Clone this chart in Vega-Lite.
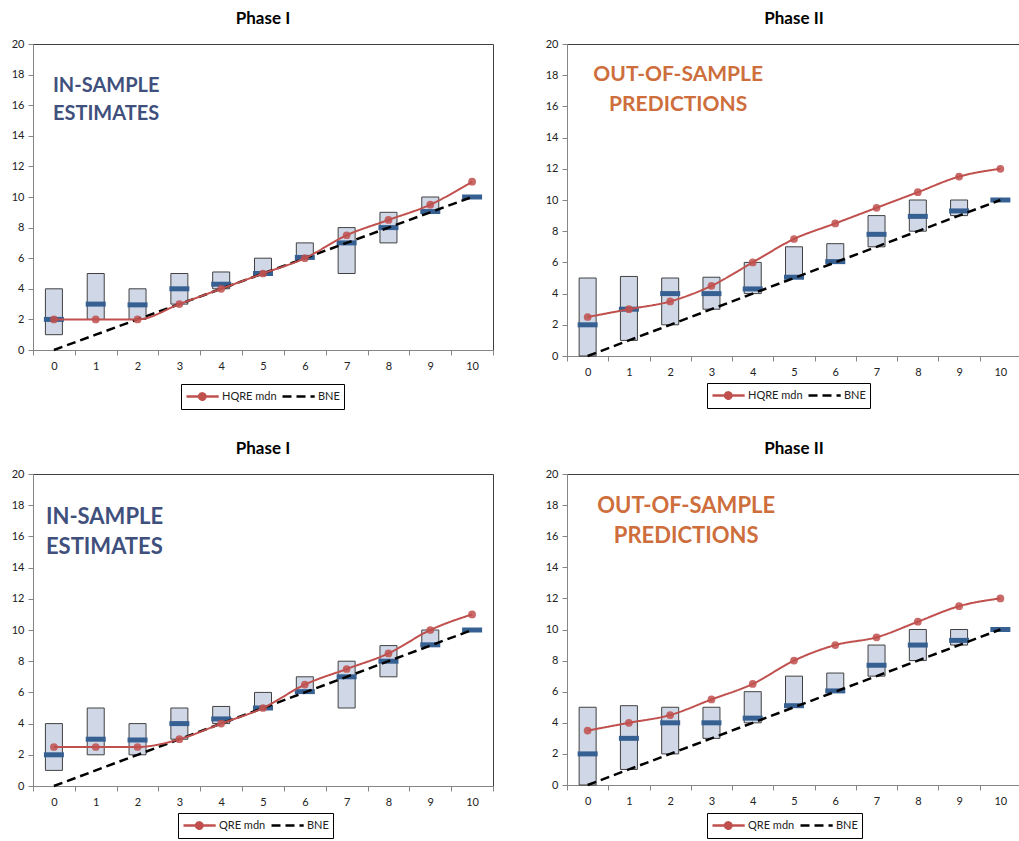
{
  "$schema": "https://vega.github.io/schema/vega-lite/v6.json",
  "padding": {"left": 10, "top": 9, "right": 0, "bottom": 0},
  "background": "white",
  "datasets": {
    "b1": [
      {"k": 0, "lo": 1, "hi": 4, "med": 2},
      {"k": 1, "lo": 2, "hi": 5, "med": 3},
      {"k": 2, "lo": 2, "hi": 4, "med": 2.95},
      {"k": 3, "lo": 3, "hi": 5, "med": 4},
      {"k": 4, "lo": 4, "hi": 5.1, "med": 4.3},
      {"k": 5, "lo": 5, "hi": 6, "med": 5},
      {"k": 6, "lo": 6, "hi": 7, "med": 6.05},
      {"k": 7, "lo": 5, "hi": 8, "med": 7},
      {"k": 8, "lo": 7, "hi": 9, "med": 8},
      {"k": 9, "lo": 9, "hi": 10, "med": 9.05},
      {"k": 10, "lo": 10, "hi": 10, "med": 10}
    ],
    "b2": [
      {"k": 0, "lo": 0, "hi": 5, "med": 2},
      {"k": 1, "lo": 1, "hi": 5.1, "med": 3},
      {"k": 2, "lo": 2, "hi": 5, "med": 4},
      {"k": 3, "lo": 3, "hi": 5.05, "med": 4},
      {"k": 4, "lo": 4, "hi": 6, "med": 4.3},
      {"k": 5, "lo": 5, "hi": 7, "med": 5.05},
      {"k": 6, "lo": 6, "hi": 7.2, "med": 6.05},
      {"k": 7, "lo": 7, "hi": 9, "med": 7.8},
      {"k": 8, "lo": 8, "hi": 10, "med": 8.95},
      {"k": 9, "lo": 9, "hi": 10, "med": 9.3},
      {"k": 10, "lo": 10, "hi": 10, "med": 10}
    ],
    "b4": [
      {"k": 0, "lo": 0, "hi": 5, "med": 2},
      {"k": 1, "lo": 1, "hi": 5.1, "med": 3},
      {"k": 2, "lo": 2, "hi": 5, "med": 4},
      {"k": 3, "lo": 3, "hi": 5, "med": 4},
      {"k": 4, "lo": 4, "hi": 6, "med": 4.3},
      {"k": 5, "lo": 5, "hi": 7, "med": 5.1},
      {"k": 6, "lo": 6, "hi": 7.2, "med": 6.05},
      {"k": 7, "lo": 7, "hi": 9, "med": 7.7},
      {"k": 8, "lo": 8, "hi": 10, "med": 9},
      {"k": 9, "lo": 9, "hi": 10, "med": 9.3},
      {"k": 10, "lo": 10, "hi": 10, "med": 10}
    ],
    "bne": [
      {"k": 0, "s": "BNE", "v": 0},
      {"k": 1, "s": "BNE", "v": 1},
      {"k": 2, "s": "BNE", "v": 2},
      {"k": 3, "s": "BNE", "v": 3},
      {"k": 4, "s": "BNE", "v": 4},
      {"k": 5, "s": "BNE", "v": 5},
      {"k": 6, "s": "BNE", "v": 6},
      {"k": 7, "s": "BNE", "v": 7},
      {"k": 8, "s": "BNE", "v": 8},
      {"k": 9, "s": "BNE", "v": 9},
      {"k": 10, "s": "BNE", "v": 10}
    ],
    "m1": [
      {"k": 0, "s": "HQRE mdn", "v": 2},
      {"k": 1, "s": "HQRE mdn", "v": 2},
      {"k": 2, "s": "HQRE mdn", "v": 2},
      {"k": 3, "s": "HQRE mdn", "v": 3},
      {"k": 4, "s": "HQRE mdn", "v": 4},
      {"k": 5, "s": "HQRE mdn", "v": 5},
      {"k": 6, "s": "HQRE mdn", "v": 6},
      {"k": 7, "s": "HQRE mdn", "v": 7.5},
      {"k": 8, "s": "HQRE mdn", "v": 8.5},
      {"k": 9, "s": "HQRE mdn", "v": 9.5},
      {"k": 10, "s": "HQRE mdn", "v": 11}
    ],
    "m2": [
      {"k": 0, "s": "HQRE mdn", "v": 2.5},
      {"k": 1, "s": "HQRE mdn", "v": 3},
      {"k": 2, "s": "HQRE mdn", "v": 3.5},
      {"k": 3, "s": "HQRE mdn", "v": 4.5},
      {"k": 4, "s": "HQRE mdn", "v": 6},
      {"k": 5, "s": "HQRE mdn", "v": 7.5},
      {"k": 6, "s": "HQRE mdn", "v": 8.5},
      {"k": 7, "s": "HQRE mdn", "v": 9.5},
      {"k": 8, "s": "HQRE mdn", "v": 10.5},
      {"k": 9, "s": "HQRE mdn", "v": 11.5},
      {"k": 10, "s": "HQRE mdn", "v": 12}
    ],
    "m3": [
      {"k": 0, "s": "QRE mdn", "v": 2.5},
      {"k": 1, "s": "QRE mdn", "v": 2.5},
      {"k": 2, "s": "QRE mdn", "v": 2.5},
      {"k": 3, "s": "QRE mdn", "v": 3},
      {"k": 4, "s": "QRE mdn", "v": 4},
      {"k": 5, "s": "QRE mdn", "v": 5},
      {"k": 6, "s": "QRE mdn", "v": 6.5},
      {"k": 7, "s": "QRE mdn", "v": 7.5},
      {"k": 8, "s": "QRE mdn", "v": 8.5},
      {"k": 9, "s": "QRE mdn", "v": 10},
      {"k": 10, "s": "QRE mdn", "v": 11}
    ],
    "m4": [
      {"k": 0, "s": "QRE mdn", "v": 3.5},
      {"k": 1, "s": "QRE mdn", "v": 4},
      {"k": 2, "s": "QRE mdn", "v": 4.5},
      {"k": 3, "s": "QRE mdn", "v": 5.5},
      {"k": 4, "s": "QRE mdn", "v": 6.5},
      {"k": 5, "s": "QRE mdn", "v": 8},
      {"k": 6, "s": "QRE mdn", "v": 9},
      {"k": 7, "s": "QRE mdn", "v": 9.5},
      {"k": 8, "s": "QRE mdn", "v": 10.5},
      {"k": 9, "s": "QRE mdn", "v": 11.5},
      {"k": 10, "s": "QRE mdn", "v": 12}
    ]
  },
  "vconcat": [
    {
      "resolve": {"scale": {"color": "independent", "strokeDash": "independent"}, "legend": {"color": "independent", "strokeDash": "independent"}},
      "spacing": 50,
      "hconcat": [
        {
          "width": 460, "height": 306,
          "title": "Phase I",
          "encoding": {
            "x": {"field": "k", "type": "ordinal", "title": null, "scale": {"paddingInner": 0, "paddingOuter": 0}, "axis": {"labelAngle": 0, "tickBand": "extent", "labelPadding": 5}},
            "y": {"type": "quantitative", "title": null, "scale": {"domain": [0, 20], "nice": false}, "axis": {"values": [0, 2, 4, 6, 8, 10, 12, 14, 16, 18, 20], "labelPadding": 4}}
          },
          "layer": [
            {"data": {"name": "b1"}, "mark": {"type": "bar", "width": 17, "fill": "#D0D8E8", "stroke": "#404040", "strokeWidth": 1}, "encoding": {"y": {"field": "lo", "type": "quantitative"}, "y2": {"field": "hi"}}},
            {"data": {"name": "b1"}, "mark": {"type": "tick", "color": "#376092", "opacity": 1, "thickness": 5, "size": 20}, "encoding": {"y": {"field": "med", "type": "quantitative"}}},
            {"data": {"name": "bne"}, "mark": {"type": "line", "strokeWidth": 2.5}, "encoding": {
              "y": {"field": "v", "type": "quantitative"},
              "color": {"field": "s", "type": "nominal", "scale": {"domain": ["HQRE mdn", "BNE"], "range": ["#C0504D", "#000000"]}, "legend": {"title": null, "legendX": 148, "legendY": 340, "encode": {"symbols": {"update": {"shape": [{"test": "datum.value === 'BNE'", "value": "M-1,0H3.6"}, {"value": "M-1,0H0.8A0.45,0.45,0,1,1,1.7,0A0.45,0.45,0,1,1,0.8,0M1.7,0H3.6"}], "fill": [{"test": "datum.value === 'BNE'", "value": "transparent"}, {"value": "#C0504D"}]}}}}},
              "strokeDash": {"field": "s", "type": "nominal", "scale": {"domain": ["HQRE mdn", "BNE"], "range": [[1, 0], [9, 5]]}, "legend": {"title": null, "legendX": 148, "legendY": 340}}
            }},
            {"data": {"name": "m1"}, "mark": {"type": "line", "strokeWidth": 2, "interpolate": "monotone"}, "encoding": {
              "y": {"field": "v", "type": "quantitative"},
              "color": {"field": "s", "type": "nominal"},
              "strokeDash": {"field": "s", "type": "nominal"}
            }},
            {"data": {"name": "m1"}, "mark": {"type": "point", "filled": true, "size": 60, "color": "#C0504D", "opacity": 0.85}, "encoding": {"y": {"field": "v", "type": "quantitative"}}},
            {"data": {"values": [{"k": 0, "y": 17.25, "label": "IN-SAMPLE\nESTIMATES"}]}, "mark": {"type": "text", "align": "left", "baseline": "middle", "lineBreak": "\n", "lineHeight": 28, "fontSize": 20, "fontWeight": "bold", "color": "#3F507D", "dx": -1}, "encoding": {"y": {"field": "y", "type": "quantitative"}, "text": {"field": "label"}}}
          ]
        },
        {
          "width": 454, "height": 312,
          "title": "Phase II",
          "encoding": {
            "x": {"field": "k", "type": "ordinal", "title": null, "scale": {"paddingInner": 0, "paddingOuter": 0}, "axis": {"labelAngle": 0, "tickBand": "extent", "labelPadding": 5}},
            "y": {"type": "quantitative", "title": null, "scale": {"domain": [0, 20], "nice": false}, "axis": {"values": [0, 2, 4, 6, 8, 10, 12, 14, 16, 18, 20], "labelPadding": 4}}
          },
          "layer": [
            {"data": {"name": "b2"}, "mark": {"type": "bar", "width": 17, "fill": "#D0D8E8", "stroke": "#404040", "strokeWidth": 1}, "encoding": {"y": {"field": "lo", "type": "quantitative"}, "y2": {"field": "hi"}}},
            {"data": {"name": "b2"}, "mark": {"type": "tick", "color": "#376092", "opacity": 1, "thickness": 5, "size": 20}, "encoding": {"y": {"field": "med", "type": "quantitative"}}},
            {"data": {"name": "bne"}, "mark": {"type": "line", "strokeWidth": 2.5}, "encoding": {
              "y": {"field": "v", "type": "quantitative"},
              "color": {"field": "s", "type": "nominal", "scale": {"domain": ["HQRE mdn", "BNE"], "range": ["#C0504D", "#000000"]}, "legend": {"title": null, "legendX": 140, "legendY": 339, "encode": {"symbols": {"update": {"shape": [{"test": "datum.value === 'BNE'", "value": "M-1,0H3.6"}, {"value": "M-1,0H0.8A0.45,0.45,0,1,1,1.7,0A0.45,0.45,0,1,1,0.8,0M1.7,0H3.6"}], "fill": [{"test": "datum.value === 'BNE'", "value": "transparent"}, {"value": "#C0504D"}]}}}}},
              "strokeDash": {"field": "s", "type": "nominal", "scale": {"domain": ["HQRE mdn", "BNE"], "range": [[1, 0], [9, 5]]}, "legend": {"title": null, "legendX": 140, "legendY": 339}}
            }},
            {"data": {"name": "m2"}, "mark": {"type": "line", "strokeWidth": 2, "interpolate": "monotone"}, "encoding": {
              "y": {"field": "v", "type": "quantitative"},
              "color": {"field": "s", "type": "nominal"},
              "strokeDash": {"field": "s", "type": "nominal"}
            }},
            {"data": {"name": "m2"}, "mark": {"type": "point", "filled": true, "size": 60, "color": "#C0504D", "opacity": 0.85}, "encoding": {"y": {"field": "v", "type": "quantitative"}}},
            {"data": {"values": [{"k": 2, "y": 18.0, "label": "OUT-OF-SAMPLE\nPREDICTIONS"}]}, "mark": {"type": "text", "align": "center", "baseline": "middle", "lineBreak": "\n", "lineHeight": 30, "fontSize": 21, "fontWeight": "bold", "color": "#CD6E3C", "dx": 8}, "encoding": {"y": {"field": "y", "type": "quantitative"}, "text": {"field": "label"}}}
          ]
        }
      ]
    },
    {
      "resolve": {"scale": {"color": "independent", "strokeDash": "independent"}, "legend": {"color": "independent", "strokeDash": "independent"}},
      "spacing": 50,
      "hconcat": [
        {
          "width": 460, "height": 312,
          "title": "Phase I",
          "encoding": {
            "x": {"field": "k", "type": "ordinal", "title": null, "scale": {"paddingInner": 0, "paddingOuter": 0}, "axis": {"labelAngle": 0, "tickBand": "extent", "labelPadding": 5}},
            "y": {"type": "quantitative", "title": null, "scale": {"domain": [0, 20], "nice": false}, "axis": {"values": [0, 2, 4, 6, 8, 10, 12, 14, 16, 18, 20], "labelPadding": 4}}
          },
          "layer": [
            {"data": {"name": "b1"}, "mark": {"type": "bar", "width": 17, "fill": "#D0D8E8", "stroke": "#404040", "strokeWidth": 1}, "encoding": {"y": {"field": "lo", "type": "quantitative"}, "y2": {"field": "hi"}}},
            {"data": {"name": "b1"}, "mark": {"type": "tick", "color": "#376092", "opacity": 1, "thickness": 5, "size": 20}, "encoding": {"y": {"field": "med", "type": "quantitative"}}},
            {"data": {"name": "bne"}, "mark": {"type": "line", "strokeWidth": 2.5}, "encoding": {
              "y": {"field": "v", "type": "quantitative"},
              "color": {"field": "s", "type": "nominal", "scale": {"domain": ["QRE mdn", "BNE"], "range": ["#C0504D", "#000000"]}, "legend": {"title": null, "legendX": 145, "legendY": 339, "encode": {"symbols": {"update": {"shape": [{"test": "datum.value === 'BNE'", "value": "M-1,0H3.6"}, {"value": "M-1,0H0.8A0.45,0.45,0,1,1,1.7,0A0.45,0.45,0,1,1,0.8,0M1.7,0H3.6"}], "fill": [{"test": "datum.value === 'BNE'", "value": "transparent"}, {"value": "#C0504D"}]}}}}},
              "strokeDash": {"field": "s", "type": "nominal", "scale": {"domain": ["QRE mdn", "BNE"], "range": [[1, 0], [9, 5]]}, "legend": {"title": null, "legendX": 145, "legendY": 339}}
            }},
            {"data": {"name": "m3"}, "mark": {"type": "line", "strokeWidth": 2, "interpolate": "monotone"}, "encoding": {
              "y": {"field": "v", "type": "quantitative"},
              "color": {"field": "s", "type": "nominal"},
              "strokeDash": {"field": "s", "type": "nominal"}
            }},
            {"data": {"name": "m3"}, "mark": {"type": "point", "filled": true, "size": 60, "color": "#C0504D", "opacity": 0.85}, "encoding": {"y": {"field": "v", "type": "quantitative"}}},
            {"data": {"values": [{"k": 0, "y": 17.25, "label": "IN-SAMPLE\nESTIMATES"}]}, "mark": {"type": "text", "align": "left", "baseline": "middle", "lineBreak": "\n", "lineHeight": 30, "fontSize": 22, "fontWeight": "bold", "color": "#3F507D", "dx": -8}, "encoding": {"y": {"field": "y", "type": "quantitative"}, "text": {"field": "label"}}}
          ]
        },
        {
          "width": 454, "height": 311,
          "title": "Phase II",
          "encoding": {
            "x": {"field": "k", "type": "ordinal", "title": null, "scale": {"paddingInner": 0, "paddingOuter": 0}, "axis": {"labelAngle": 0, "tickBand": "extent", "labelPadding": 5}},
            "y": {"type": "quantitative", "title": null, "scale": {"domain": [0, 20], "nice": false}, "axis": {"values": [0, 2, 4, 6, 8, 10, 12, 14, 16, 18, 20], "labelPadding": 4}}
          },
          "layer": [
            {"data": {"name": "b4"}, "mark": {"type": "bar", "width": 17, "fill": "#D0D8E8", "stroke": "#404040", "strokeWidth": 1}, "encoding": {"y": {"field": "lo", "type": "quantitative"}, "y2": {"field": "hi"}}},
            {"data": {"name": "b4"}, "mark": {"type": "tick", "color": "#376092", "opacity": 1, "thickness": 5, "size": 20}, "encoding": {"y": {"field": "med", "type": "quantitative"}}},
            {"data": {"name": "bne"}, "mark": {"type": "line", "strokeWidth": 2.5}, "encoding": {
              "y": {"field": "v", "type": "quantitative"},
              "color": {"field": "s", "type": "nominal", "scale": {"domain": ["QRE mdn", "BNE"], "range": ["#C0504D", "#000000"]}, "legend": {"title": null, "legendX": 140, "legendY": 339, "encode": {"symbols": {"update": {"shape": [{"test": "datum.value === 'BNE'", "value": "M-1,0H3.6"}, {"value": "M-1,0H0.8A0.45,0.45,0,1,1,1.7,0A0.45,0.45,0,1,1,0.8,0M1.7,0H3.6"}], "fill": [{"test": "datum.value === 'BNE'", "value": "transparent"}, {"value": "#C0504D"}]}}}}},
              "strokeDash": {"field": "s", "type": "nominal", "scale": {"domain": ["QRE mdn", "BNE"], "range": [[1, 0], [9, 5]]}, "legend": {"title": null, "legendX": 140, "legendY": 339}}
            }},
            {"data": {"name": "m4"}, "mark": {"type": "line", "strokeWidth": 2, "interpolate": "monotone"}, "encoding": {
              "y": {"field": "v", "type": "quantitative"},
              "color": {"field": "s", "type": "nominal"},
              "strokeDash": {"field": "s", "type": "nominal"}
            }},
            {"data": {"name": "m4"}, "mark": {"type": "point", "filled": true, "size": 60, "color": "#C0504D", "opacity": 0.85}, "encoding": {"y": {"field": "v", "type": "quantitative"}}},
            {"data": {"values": [{"k": 2, "y": 17.95, "label": "OUT-OF-SAMPLE\nPREDICTIONS"}]}, "mark": {"type": "text", "align": "center", "baseline": "middle", "lineBreak": "\n", "lineHeight": 30, "fontSize": 22, "fontWeight": "bold", "color": "#CD6E3C", "dx": 16}, "encoding": {"y": {"field": "y", "type": "quantitative"}, "text": {"field": "label"}}}
          ]
        }
      ]
    }
  ],
  "spacing": 29,
  "resolve": {"scale": {"color": "independent", "strokeDash": "independent"}, "legend": {"color": "independent", "strokeDash": "independent"}},
  "config": {
    "font": "Lato",
    "view": {"stroke": "#404040", "strokeWidth": 1},
    "axis": {"labelFont": "Lato", "labelFontSize": 11, "labelColor": "#222222", "domainColor": "#868686", "tickColor": "#868686", "tickSize": 5, "grid": false},
    "title": {"font": "Lato", "fontSize": 17, "fontWeight": "bold", "color": "#000000", "offset": 10, "anchor": "middle"},
    "legend": {"orient": "none", "direction": "horizontal", "gridAlign": "none", "strokeColor": "#000000", "fillColor": "#ffffff", "padding": 4, "labelFont": "Lato", "labelFontSize": 11, "labelColor": "#222222", "symbolStrokeWidth": 2.5, "symbolSize": 196, "labelOffset": 20, "columnPadding": 0}
  }
}
